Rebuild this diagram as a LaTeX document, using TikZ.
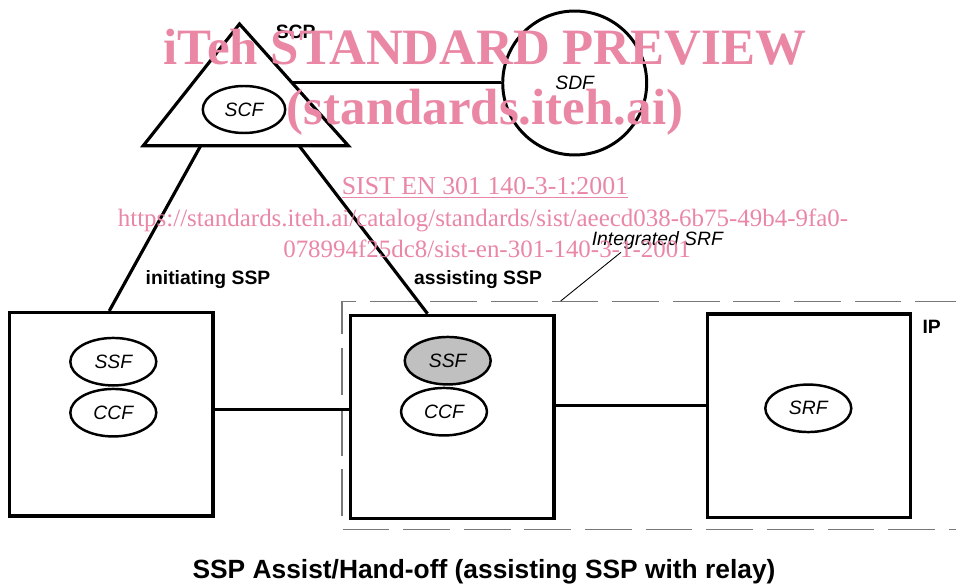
\documentclass[tikz,border=0pt]{standalone}
\usepackage{fontspec}
\setmainfont{Liberation Sans}
\newfontfamily\wmfont{Liberation Serif}
\usetikzlibrary{shapes.geometric,calc}
\definecolor{wmpink}{RGB}{233,135,165}
\definecolor{fngray}{RGB}{192,192,192}
\definecolor{dashgray}{RGB}{120,120,120}

\begin{document}
\begin{tikzpicture}[x=0.02cm,y=-0.02cm,line width=1.8pt,
  fn/.style={ellipse,draw,line width=1.4pt,inner sep=0pt,minimum width=1.72cm,
    minimum height=0.95cm,font=\fontsize{11}{13}\selectfont\itshape},
  sspbox/.style={rectangle,draw,line width=1.8pt,inner sep=0pt,
    minimum width=4.07cm,minimum height=4.07cm},
  lbl/.style={font=\fontsize{11}{13}\selectfont\bfseries,inner sep=0pt},
  wm/.style={text=wmpink,anchor=base,inner sep=0pt,
    font=\wmfont\fontsize{14.2}{17}\selectfont}]

  \useasboundingbox (0,0) rectangle (956,587);

  % the integrated SRF (dashed frame, open on the right)
  \draw[dashgray,line width=0.8pt,dash pattern=on 26.6pt off 7.9pt]
    (962,301.7) -- (341.8,301.7) -- (341.8,529.3) -- (962,529.3);

  % SCP triangle with SCF
  \coordinate (scptop) at (239.5,24);
  \coordinate (scpbl) at (143.3,145.7);
  \coordinate (scpbr) at (348.3,145.7);
  \draw[line join=miter] (scptop) -- (scpbl) -- (scpbr) -- cycle;
  \node[fn,minimum width=1.65cm,minimum height=0.94cm] (scf) at (244,109.5) {SCF};
  \node[lbl] (scp) at (295.7,31.7) {SCP};

  % SDF
  \node[circle,draw,line width=1.7pt,minimum size=2.88cm,inner sep=0pt,
    font=\fontsize{11}{13}\selectfont\itshape] (sdf) at (574.7,83) {SDF};
  \coordinate (scpr) at ($(scptop)!0.48!(scpbr)$);
  \draw (scpr) -- (scpr -| sdf.west);

  % the three physical entities
  \node[sspbox] (ini) at (111.3,414.3) {};
  \node[sspbox] (asst) at (452.3,417) {};
  \node[sspbox] (ip) at (809,415.8) {};

  \node[fn] (ssfi) at (113.3,361.7) {SSF};
  \node[fn] (ccfi) at (113.3,412.7) {CCF};
  \node[fn,fill=fngray] (ssfa) at (447.7,360.7) {SSF};
  \node[fn] (ccfa) at (444,411.7) {CCF};
  \node[fn] (srf) at (808.3,408.3) {SRF};

  % links
  \coordinate (scpl) at ($(scpbl)!0.28!(scpbr)$);
  \coordinate (scpm) at ($(scpbl)!0.76!(scpbr)$);
  \draw (scpl) -- ($(ini.north west)!0.49!(ini.north east)$);
  \draw (scpm) -- ($(asst.north west)!0.38!(asst.north east)$);
  \draw (ini.east |- 0,409.5) -- (asst.west |- 0,409.5);
  \draw (asst.east |- 0,405.5) -- (ip.west |- 0,405.5);

  \node[lbl] (inilbl) at (208,279.3) {initiating SSP};
  \node[lbl] (asstlbl) at (478,280) {assisting SSP};
  \node[lbl] (iplbl) at (931.7,326.7) {IP};

  \node[font=\fontsize{11}{13}\selectfont\itshape,inner sep=0pt] (isrf) at (657.3,240.7) {Integrated SRF};
  \coordinate (isrfend) at (560.7,301);
  \draw[line width=0.5pt] (621,252.3) -- (isrfend);

  \node[font=\fontsize{15}{18}\selectfont\bfseries,inner sep=0pt] (title) at (484,572)
    {SSP Assist/Hand-off (assisting SSP with relay)};

  % watermark
  \node[wm,font=\wmfont\bfseries\fontsize{29}{34}\selectfont] (wm1) at (485,65) {iTeh STANDARD PREVIEW};
  \node[wm,font=\wmfont\bfseries\fontsize{29}{34}\selectfont] (wm2) at (485,125) {(standards.iteh.ai)};
  \node[wm,font=\wmfont\fontsize{14.7}{17}\selectfont] (wm3) at (485,195) {\underline{SIST EN 301 140-3-1:2001}};
  \node[wm] (wm4) at (483,226.5) {https://standards.iteh.ai/catalog/standards/sist/aeecd038-6b75-49b4-9fa0-};
  \node[wm] (wm5) at (487,258) {078994f25dc8/sist-en-301-140-3-1-2001};

\end{tikzpicture}
\end{document}
